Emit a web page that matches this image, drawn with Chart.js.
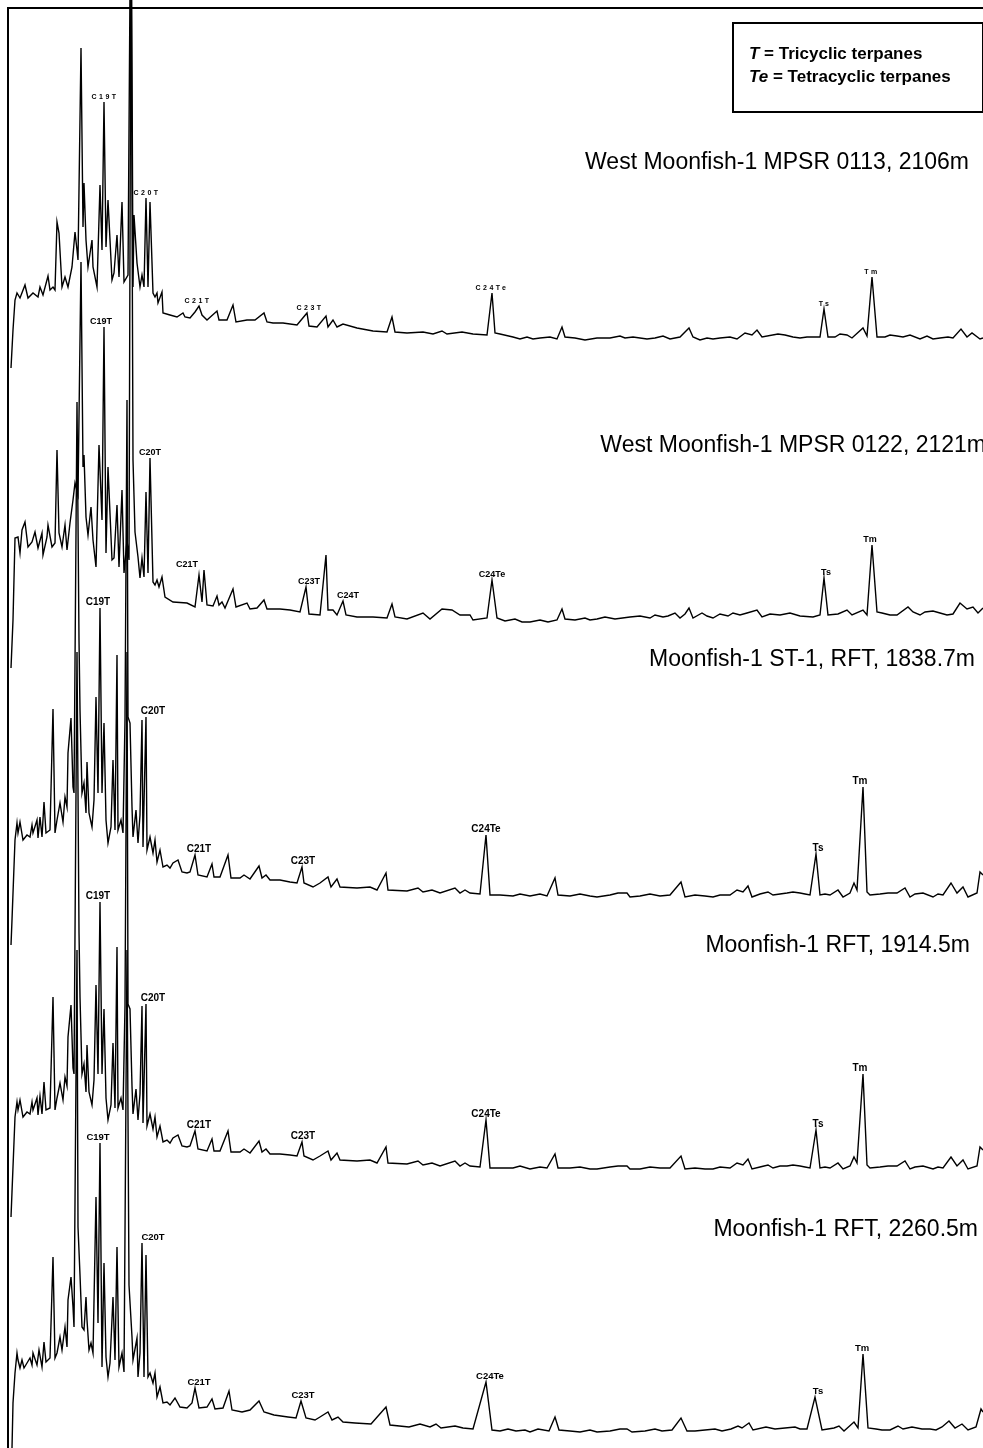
<!DOCTYPE html>
<html>
<head>
<meta charset="utf-8">
<script src="https://cdn.jsdelivr.net/npm/chart.js@4.4.0/dist/chart.umd.min.js"></script>
<style>
    body { margin: 0; background: #fff; }
    #wrap { position: relative; width: 983px; height: 1448px; }
</style>
</head>
<body>
<div id="wrap"><canvas id="chromChart" width="983" height="1448"></canvas></div>
<script>
// Each trace: [scan, signal above the trace floor]
const trace1 = [[11,-23],[13,15],[15,45],[17,52],[20,47],[25,60],[28,47],[33,52],[38,48],[40,58],[43,50],[48,69],[50,55],[53,58],[55,55],[57,123],[59,112],[62,58],[65,68],[68,58],[72,78],[75,113],[77,95],[78,85],[81,297],[83,118],[84,162],[86,105],[88,78],[92,105],[93,78],[97,58],[100,160],[102,95],[104,243],[106,98],[108,145],[112,65],[114,72],[117,110],[119,68],[122,143],[124,63],[128,70],[131,500],[133,58],[134,130],[137,82],[140,58],[142,70],[144,58],[146,147],[148,58],[150,143],[153,52],[155,48],[157,52],[158,42],[162,53],[163,32],[170,30],[177,28],[183,32],[185,28],[190,27],[195,33],[199,39],[202,30],[207,25],[217,34],[219,25],[227,25],[233,40],[236,23],[247,25],[255,25],[264,32],[267,23],[273,22],[283,22],[297,20],[307,32],[309,19],[317,18],[326,29],[328,18],[333,25],[337,18],[343,21],[357,17],[373,14],[387,13],[392,28],[395,13],[407,12],[423,13],[433,11],[442,14],[447,11],[462,13],[473,11],[487,10],[492,52],[495,12],[500,11],[513,8],[540,7],[562,18],[565,8],[597,7],[633,8],[647,6],[680,8],[689,17],[693,8],[720,7],[745,12],[752,10],[757,15],[762,8],[778,11],[793,8],[807,8],[820,8],[824,36],[828,8],[847,10],[852,7],[863,17],[867,9],[872,68],[877,8],[897,9],[910,10],[920,6],[940,7],[961,16],[967,8],[972,12],[980,6],[983,7],
    [520,6],[527,8],[533,6],[550,8],[557,6],[575,7],[585,5],[610,7],[620,9],[625,7],[655,7],[663,9],[670,6],[700,5],[707,7],[713,6],[730,8],[737,6],[785,10],[800,7],[835,8],[840,11],[885,8],[890,10],[903,8],[927,9],[933,6],[948,8],[953,7]];

const trace2 = [[11,-43],[13,5],[15,87],[18,88],[20,72],[22,95],[25,103],[28,78],[32,83],[35,93],[38,77],[42,92],[43,70],[47,88],[48,100],[52,78],[55,82],[57,175],[59,92],[62,78],[65,100],[67,75],[70,102],[73,125],[75,142],[78,130],[81,363],[83,158],[84,170],[86,108],[88,90],[91,118],[93,85],[96,58],[99,180],[102,105],[104,298],[106,72],[108,158],[112,65],[114,67],[117,120],[119,58],[122,135],[124,52],[127,85],[129,65],[131,700],[133,165],[135,93],[138,68],[140,47],[142,67],[144,48],[146,133],[148,52],[150,167],[153,43],[155,40],[157,45],[159,38],[162,48],[165,28],[173,23],[187,22],[195,18],[199,50],[202,23],[204,55],[207,20],[213,19],[217,29],[219,20],[222,23],[225,17],[233,36],[236,18],[247,22],[250,16],[257,17],[264,25],[267,16],[280,16],[290,15],[300,13],[306,38],[309,11],[320,10],[326,70],[328,15],[333,15],[337,10],[343,24],[346,10],[357,8],[373,8],[387,7],[392,21],[395,8],[407,6],[423,12],[430,6],[442,16],[452,15],[460,10],[470,10],[473,5],[487,7],[492,45],[497,7],[530,3],[557,5],[562,16],[565,6],[597,6],[630,8],[663,8],[675,12],[680,7],[689,17],[693,7],[702,12],[713,7],[740,10],[747,12],[757,15],[762,8],[780,10],[813,8],[820,10],[824,47],[828,10],[847,15],[852,10],[863,15],[867,10],[872,80],[877,13],[897,10],[908,18],[913,13],[920,10],[933,14],[947,10],[960,22],[967,16],[973,18],[978,12],[983,17],
    [505,4],[515,6],[522,3],[540,5],[548,3],[575,5],[585,7],[590,5],[605,8],[615,6],[640,9],[650,7],[655,10],[668,9],[685,11],[707,9],[720,11],[728,9],[733,12],[770,11],[790,12],[800,9],[838,11],[882,12],[890,10],[925,13],[940,12],[953,11]];

const trace3 = [[11,-45],[12,-20],[15,60],[17,77],[18,67],[20,78],[23,60],[27,65],[30,63],[32,75],[33,67],[37,80],[38,62],[40,83],[42,63],[44,98],[46,67],[50,70],[53,191],[55,67],[57,80],[60,97],[63,78],[65,103],[67,93],[68,147],[71,182],[73,113],[74,107],[77,498],[79,260],[80,190],[82,107],[84,117],[86,87],[87,138],[89,87],[92,73],[94,100],[96,203],[98,107],[100,292],[102,107],[104,177],[106,80],[108,57],[111,73],[113,140],[115,70],[117,245],[118,70],[121,80],[123,67],[125,180],[127,500],[128,183],[130,177],[132,93],[133,63],[136,90],[138,57],[140,85],[142,180],[143,53],[146,183],[147,50],[150,63],[153,47],[155,60],[157,38],[160,50],[163,33],[167,35],[170,32],[173,37],[178,40],[182,28],[187,27],[190,28],[195,45],[198,25],[207,23],[212,36],[214,23],[220,23],[228,45],[231,22],[240,22],[244,25],[250,21],[259,34],[262,22],[266,25],[270,20],[280,20],[290,18],[297,17],[302,33],[304,17],[313,13],[320,17],[328,23],[331,13],[337,21],[340,13],[357,12],[370,13],[377,10],[386,27],[388,10],[407,9],[418,12],[423,8],[432,10],[440,7],[455,12],[460,7],[465,10],[470,7],[480,6],[486,65],[490,5],[513,4],[547,4],[555,22],[558,5],[597,3],[627,7],[630,3],[670,5],[681,18],[685,3],[713,3],[730,5],[737,10],[743,8],[748,14],[752,3],[768,8],[773,5],[787,7],[800,7],[810,5],[816,46],[820,5],[830,5],[838,10],[843,3],[850,7],[854,17],[857,10],[863,113],[867,8],[880,6],[897,7],[905,12],[910,3],[923,7],[933,3],[943,5],[951,17],[957,7],[963,13],[968,3],[977,7],[980,28],[983,25],
    [500,5],[520,6],[530,4],[540,6],[570,4],[580,6],[590,4],[610,5],[618,7],[640,4],[650,6],[660,4],[695,5],[705,4],[720,5],[760,6],[780,6],[793,8],[805,6],[825,6],[870,5],[888,7],[915,6],[938,6]];

const trace4 = [[11,-45],[12,-20],[15,55],[17,70],[18,62],[20,72],[23,55],[27,60],[30,58],[32,70],[33,62],[37,74],[38,57],[40,76],[42,58],[44,90],[46,62],[50,64],[53,175],[55,62],[57,74],[60,89],[63,72],[65,95],[67,86],[68,135],[71,167],[73,104],[74,98],[77,520],[79,240],[80,175],[82,98],[84,108],[86,80],[87,127],[89,80],[92,67],[94,92],[96,187],[98,98],[100,270],[102,98],[104,163],[106,74],[108,52],[111,67],[113,129],[115,64],[117,225],[118,64],[121,74],[123,62],[125,166],[127,520],[128,168],[130,163],[132,86],[133,58],[136,83],[138,52],[140,78],[142,166],[143,49],[146,168],[147,46],[150,58],[153,43],[155,55],[157,35],[160,46],[163,30],[167,32],[170,29],[173,34],[178,37],[182,26],[187,25],[190,26],[195,41],[198,23],[207,21],[212,33],[214,21],[220,21],[228,41],[231,20],[240,20],[244,23],[250,19],[259,31],[262,20],[266,23],[270,18],[280,18],[290,17],[297,16],[302,30],[304,16],[313,12],[320,16],[328,21],[331,12],[337,19],[340,12],[357,11],[370,12],[377,9],[386,25],[388,9],[407,8],[418,11],[423,7],[432,9],[440,6],[455,11],[460,6],[465,9],[470,6],[480,5],[486,52],[490,4],[513,4],[547,4],[555,18],[558,4],[597,3],[627,6],[630,3],[670,4],[681,16],[685,3],[713,3],[730,4],[737,9],[743,7],[748,13],[752,3],[768,7],[773,4],[787,6],[800,6],[810,4],[816,42],[820,4],[830,4],[838,9],[843,3],[850,6],[854,15],[857,9],[863,98],[867,7],[880,5],[897,6],[905,11],[910,3],[923,6],[933,3],[943,4],[951,15],[957,6],[963,12],[968,3],[977,6],[980,25],[983,22],
    [500,4],[520,6],[530,3],[540,5],[570,4],[580,5],[590,3],[610,5],[618,6],[640,3],[650,5],[660,4],[695,4],[705,3],[720,5],[760,5],[780,6],[793,7],[805,5],[825,5],[870,4],[888,6],[915,5],[938,5]];

const trace5 = [[12,-13],[13,32],[15,62],[17,82],[18,75],[20,67],[22,75],[24,67],[27,72],[30,77],[32,70],[33,82],[37,70],[39,85],[42,68],[44,93],[46,73],[50,77],[53,178],[55,77],[57,82],[60,98],[62,85],[65,108],[67,88],[68,135],[71,158],[73,128],[74,108],[77,485],[78,208],[80,160],[82,108],[84,105],[86,138],[87,115],[89,85],[91,92],[93,82],[96,238],[98,112],[100,292],[102,68],[104,172],[106,78],[108,58],[110,72],[113,138],[115,75],[117,188],[119,68],[122,82],[124,63],[127,485],[129,150],[132,98],[133,75],[137,97],[138,58],[140,82],[142,192],[144,58],[146,180],[148,58],[150,62],[153,52],[155,62],[157,38],[160,48],[163,32],[167,33],[170,30],[175,37],[180,28],[187,27],[192,32],[195,47],[199,27],[207,28],[212,36],[215,26],[223,27],[229,44],[232,25],[242,23],[250,25],[259,34],[264,23],[274,20],[288,18],[296,17],[301,34],[306,17],[315,15],[320,18],[328,23],[332,15],[338,18],[343,13],[355,12],[371,11],[386,28],[390,10],[409,8],[420,11],[430,8],[436,11],[441,7],[455,9],[463,7],[473,6],[486,53],[492,5],[516,4],[538,6],[549,4],[555,18],[559,5],[597,3],[627,6],[632,3],[672,5],[681,17],[687,4],[705,5],[731,6],[738,9],[742,7],[749,12],[753,5],[766,8],[785,7],[807,6],[815,38],[822,5],[834,7],[839,9],[844,4],[854,13],[858,7],[863,81],[868,7],[882,5],[898,9],[903,6],[922,6],[936,5],[949,14],[955,7],[962,11],[968,5],[976,8],[981,26],[983,23],
    [500,4],[508,6],[525,5],[530,3],[570,4],[580,3],[590,5],[610,4],[620,6],[645,4],[655,6],[662,4],[695,4],[715,6],[722,4],[775,6],[795,8],[800,6],[828,6],[876,6],[890,5],[912,8],[930,6],[942,8]];

const sampleNames = [
    'West Moonfish-1 MPSR 0113, 2106m',
    'West Moonfish-1 MPSR 0122, 2121m',
    'Moonfish-1 ST-1, RFT, 1838.7m',
    'Moonfish-1 RFT, 1914.5m',
    'Moonfish-1 RFT, 2260.5m'
];

// peak names, the scan of the peak they mark, and where the text is centred
const peakNames = [
    ['C19T', 'C20T', 'C21T', 'C23T', 'C24Te', 'Ts', 'Tm'],
    ['C19T', 'C20T', 'C21T', 'C23T', 'C24T', 'C24Te', 'Ts', 'Tm'],
    ['C19T', 'C20T', 'C21T', 'C23T', 'C24Te', 'Ts', 'Tm'],
    ['C19T', 'C20T', 'C21T', 'C23T', 'C24Te', 'Ts', 'Tm'],
    ['C19T', 'C20T', 'C21T', 'C23T', 'C24Te', 'Ts', 'Tm']
];
const peakScans = [
    [104, 146, 199, 307, 492, 824, 872],
    [104, 150, 204, 306, 343, 492, 824, 872],
    [100, 146, 195, 302, 486, 816, 863],
    [100, 146, 195, 302, 486, 816, 863],
    [100, 142, 195, 301, 486, 815, 863]
];
const peakTextScans = [
    [105, 147, 198, 310, 492, 825, 872],
    [101, 150, 187, 309, 348, 492, 826, 870],
    [98, 153, 199, 303, 486, 818, 860],
    [98, 153, 199, 303, 486, 818, 860],
    [98, 153, 199, 303, 490, 818, 862]
];

const traces = [trace1, trace2, trace3, trace4, trace5];

// layout: floor line of each trace (from top of page) and label styles
const H = 1448;
const traceFloors = [345, 625, 900, 1172, 1435];
const nameBaselines = [169, 452, 666, 952, 1236];
const nameRight = [969, 986, 975, 970, 978];
const peakFonts = ['bold 7px Arial', 'bold 9px Arial', 'bold 10px Arial', 'bold 10px Arial', 'bold 9.5px Arial'];
const peakSpacing = ['2.5px', '0px', '0px', '0px', '0px'];

const annotations = {
    id: 'annotations',
    afterDraw(chart) {
        const c = chart.ctx;
        const ys = chart.scales.y, xs = chart.scales.x;
        c.save();
        c.fillStyle = '#000';
        c.strokeStyle = '#000';

        // frame
        c.lineWidth = 2;
        c.strokeRect(8, 8, 990, 1460);

        // legend box
        c.strokeRect(733, 23, 250, 89);
        c.textAlign = 'left';
        c.font = 'italic bold 17px Arial';
        c.fillText('T', 749, 59);
        let w = c.measureText('T').width;
        c.font = 'bold 17px Arial';
        c.fillText(' = Tricyclic terpanes', 749 + w, 59);
        c.font = 'italic bold 17px Arial';
        c.fillText('Te', 749, 82);
        w = c.measureText('Te').width;
        c.font = 'bold 17px Arial';
        c.fillText(' = Tetracyclic terpanes', 749 + w, 82);

        // sample names
        c.font = '23px Arial';
        c.textAlign = 'right';
        sampleNames.forEach((name, i) => c.fillText(name, nameRight[i], nameBaselines[i]));

        // peak labels
        c.textAlign = 'center';
        traces.forEach((t, i) => {
            c.font = peakFonts[i];
            c.letterSpacing = peakSpacing[i];
            peakNames[i].forEach((name, k) => {
                const p = t.find(pt => pt[0] === peakScans[i][k]);
                const top = ys.getPixelForValue(H - traceFloors[i] + p[1]);
                c.fillText(name, xs.getPixelForValue(peakTextScans[i][k]), top - 3);
            });
        });
        c.restore();
    }
};

new Chart(document.getElementById('chromChart'), {
    type: 'line',
    data: {
        datasets: traces.map((t, i) => ({
            data: t.slice().sort((a, b) => a[0] - b[0])
                .map(p => ({ x: p[0], y: H - traceFloors[i] + p[1] })),
            borderColor: '#000',
            borderWidth: 1.4,
            pointRadius: 0,
            tension: 0,
            fill: false
        }))
    },
    options: {
        responsive: false,
        animation: false,
        layout: { padding: 0 },
        plugins: { legend: { display: false }, tooltip: { enabled: false } },
        scales: {
            x: { type: 'linear', min: 0, max: 983, display: false },
            y: { type: 'linear', min: 0, max: H, display: false }
        }
    },
    plugins: [annotations]
});
</script>
</body>
</html>
